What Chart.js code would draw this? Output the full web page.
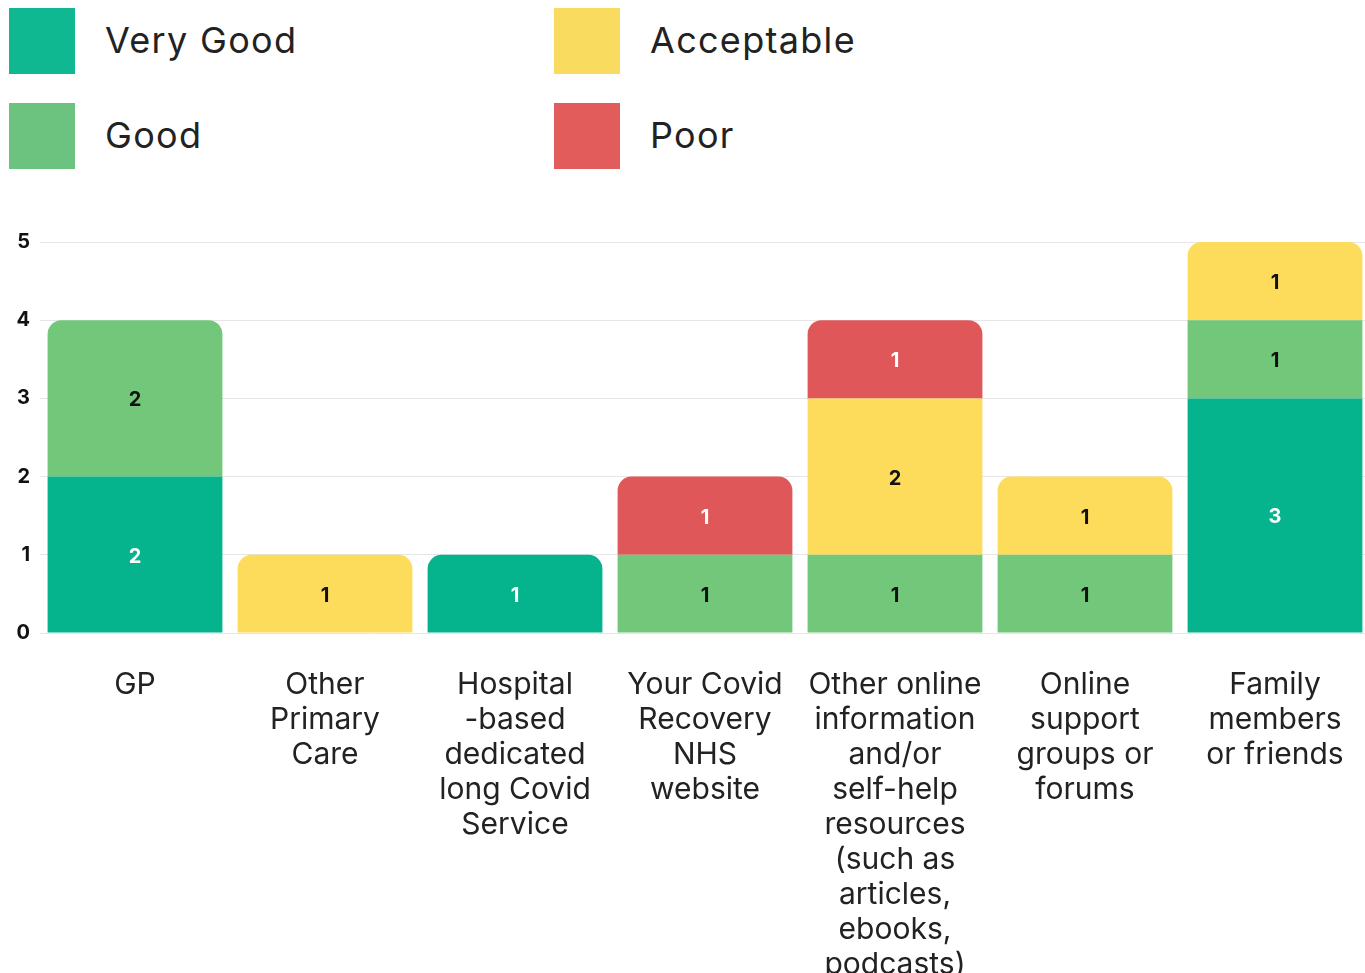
<!DOCTYPE html>
<html>
<head>
<meta charset="utf-8">
<script src="https://cdn.jsdelivr.net/npm/chart.js@4"></script>
<style>
  html, body { margin: 0; padding: 0; background: #fff; overflow: hidden; }
  #wrap { position: relative; width: 1365px; height: 973px; }
  #legend { position: absolute; left: 9px; top: 8px; width: 1100px; font-family: Inter, "Noto Sans", sans-serif; }
  .item { position: absolute; display: flex; align-items: center; }
  .box { width: 66px; height: 66px; }
  .lbl { margin-left: 30px; font-size: 36px; color: #222; letter-spacing: 1.3px; margin-top: -3px; }
  canvas { position: absolute; left: 0; top: 0; }
</style>
</head>
<body>
<div id="wrap">
  <div id="legend"></div>
  <canvas id="chart" width="1372" height="973"></canvas>
</div>
<script>
const categories = [
  ["GP"],
  ["Other", "Primary", "Care"],
  ["Hospital", "-based", "dedicated", "long Covid", "Service"],
  ["Your Covid", "Recovery", "NHS", "website"],
  ["Other online", "information", "and/or", "self-help", "resources", "(such as", "articles,", "ebooks,", "podcasts)"],
  ["Online", "support", "groups or", "forums"],
  ["Family", "members", "or friends"]
];
const veryGood   = [2, 0, 1, 0, 0, 0, 3];
const good       = [2, 0, 0, 1, 1, 1, 1];
const acceptable = [0, 1, 0, 0, 2, 1, 1];
const poor       = [0, 0, 0, 1, 1, 0, 0];
const seriesNames = ["Very Good", "Good", "Acceptable", "Poor"];
const seriesColors = ["#05B38C", "#72C77B", "#FDDC5C", "#E05759"];
const legendColors = ["#10B891", "#6CC380", "#F9DB5F", "#E35C5C"];
const labelColors = ["#ffffff", "#111111", "#111111", "#ffffff"];
const yTicks = [0, 1, 2, 3, 4, 5];

const allSeries = [veryGood, good, acceptable, poor];

// legend: two columns, filled column-wise
const legendEl = document.getElementById("legend");
seriesNames.forEach((name, i) => {
  const item = document.createElement("div");
  item.className = "item";
  item.style.left = (Math.floor(i / 2) * 545) + "px";
  item.style.top = ((i % 2) * 95) + "px";
  item.innerHTML = `<div class="box" style="background:${legendColors[i]}"></div><div class="lbl">${name}</div>`;
  legendEl.appendChild(item);
});

// only the top segment of each stack gets rounded corners
function topRadius(ctx) {
  const di = ctx.dataIndex, ds = ctx.datasetIndex;
  let top = -1;
  allSeries.forEach((s, k) => { if (s[di] > 0) top = k; });
  if (ds === top) return { topLeft: 14, topRight: 14, bottomLeft: 0, bottomRight: 0 };
  return 0;
}

const valueLabels = {
  id: "valueLabels",
  afterDatasetsDraw(chart) {
    const c = chart.ctx;
    c.save();
    c.font = "bold 20px Inter, 'Noto Sans', sans-serif";
    c.textAlign = "center";
    c.textBaseline = "middle";
    chart.data.datasets.forEach((ds, i) => {
      const meta = chart.getDatasetMeta(i);
      meta.data.forEach((bar, j) => {
        const v = ds.data[j];
        if (!v) return;
        c.fillStyle = labelColors[i];
        c.fillText(String(v), bar.x, (bar.y + bar.base) / 2 + 2);
      });
    });
    c.restore();
  }
};

new Chart(document.getElementById("chart"), {
  type: "bar",
  data: {
    labels: categories,
    datasets: allSeries.map((s, i) => ({
      label: seriesNames[i],
      data: s,
      backgroundColor: seriesColors[i],
      borderRadius: topRadius,
      borderSkipped: false,
      barPercentage: 0.92,
      categoryPercentage: 1
    }))
  },
  options: {
    responsive: false,
    animation: false,
    layout: { padding: { top: 242, right: 2, left: 0, bottom: 0 } },
    plugins: { legend: { display: false }, tooltip: { enabled: false } },
    scales: {
      x: {
        stacked: true,
        grid: { display: false },
        border: { display: false },
        ticks: {
          color: "#222",
          font: { family: "Inter, 'Noto Sans', sans-serif", size: 30, lineHeight: 1.167 },
          padding: 26,
          maxRotation: 0,
          autoSkip: false
        },
        afterFit(scale) { scale.height = 340; }
      },
      y: {
        stacked: true,
        min: 0,
        max: 5,
        afterBuildTicks(scale) { scale.ticks = yTicks.map(v => ({ value: v })); },
        grid: { color: "#e6e6e6", drawTicks: false, lineWidth: 1 },
        border: { display: false },
        ticks: {
          color: "#111",
          font: { family: "Inter, 'Noto Sans', sans-serif", size: 20, weight: "bold" },
          padding: 10
        },
        afterFit(scale) { scale.width = 40; }
      }
    }
  },
  plugins: [valueLabels]
});
</script>
</body>
</html>
